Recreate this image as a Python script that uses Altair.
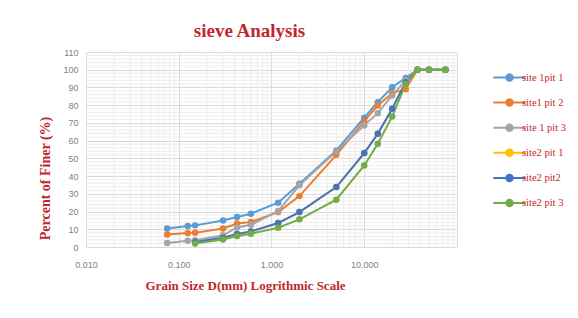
import altair as alt
import pandas as pd

sizes = [0.075, 0.125, 0.15, 0.3, 0.425, 0.6, 1.18, 2.0, 5.0, 10.0, 14.0, 20.0, 28.0, 37.5, 50.0, 75.0]
series_names = ["site 1pit 1", "site1 pit 2", "site 1 pit 3", "site2 pit 1", "site2 pit2", "site2 pit 3"]
colors = ["#5B9BD5", "#ED7D31", "#A5A5A5", "#FFC000", "#4472C4", "#70AD47"]

s1p1 = [10.4, 11.9, 12.2, 15.0, 16.9, 18.8, 25.0, 35.7, 54.5, 72.9, 81.7, 90.1, 95.4, 100, 100, 100]
s1p2 = [7.0, 7.9, 8.1, 10.4, 13.2, 14.1, 19.7, 28.7, 52.0, 71.0, 79.8, 86.8, 89.0, 100, 100, 100]
s1p3 = [2.3, 3.5, 3.8, 6.6, 11.0, 12.5, 20.3, 34.8, 54.0, 68.6, 75.5, 85.5, 94.0, 100, 100, 100]
s2p1 = [None, None, 2.8, 5.2, 7.3, 8.8, 13.5, 19.7, 33.8, 53.0, 63.9, 78.0, 93.0, 100, 100, 100]
s2p2 = [None, None, 2.8, 5.2, 7.3, 8.8, 13.5, 19.7, 33.8, 53.0, 63.9, 78.0, 93.0, 100, 100, 100]
s2p3 = [None, None, 2.0, 4.2, 6.2, 7.5, 10.9, 15.6, 26.7, 46.0, 58.2, 73.6, 92.0, 100, 100, 100]

major_x = [0.01, 0.1, 1, 10]
minor_x = [m * d for d in [0.01, 0.1, 1, 10] for m in range(2, 10)]
major_y = list(range(0, 111, 10))
minor_y = [v for v in range(0, 111, 2) if v % 10 != 0]

rows = []
for name, vals in zip(series_names, [s1p1, s1p2, s1p3, s2p1, s2p2, s2p3]):
    for s, v in zip(sizes, vals):
        if v is not None:
            rows.append({"size": s, "finer": v, "series": name})
df = pd.DataFrame(rows)

xscale = alt.Scale(type="log", domain=[0.01, 100], nice=False)
yscale = alt.Scale(domain=[0, 110], nice=False)

red = "#C0272D"

xaxis = alt.Axis(values=major_x, format=".3f", title="Grain  Size D(mm) Logrithmic  Scale",
                 grid=True, gridColor="#d9d9d9", domain=False, ticks=False,
                 labelPadding=13, labelFontSize=9, labelColor="#7f7f7f", labelFont="Liberation Sans",
                 titleFont="Liberation Serif", titleFontSize=13, titleColor=red, titleFontWeight="bold",
                 titlePadding=10, titleX=159, labelFlush=False)
yaxis = alt.Axis(values=major_y, title="Percent of Finer (%)",
                 grid=True, gridColor="#d9d9d9", domain=False, ticks=False,
                 labelPadding=8, labelFontSize=9, labelColor="#7f7f7f", labelFont="Liberation Sans",
                 titleFont="Liberation Serif", titleFontSize=14, titleColor=red, titleFontWeight="bold",
                 titlePadding=10, titleY=126)

minor_vx = alt.Chart(pd.DataFrame({"v": minor_x})).mark_rule(color="#ececec", strokeWidth=1).encode(
    x=alt.X("v:Q", scale=xscale, axis=xaxis)
)
minor_hy = alt.Chart(pd.DataFrame({"v": minor_y})).mark_rule(color="#ececec", strokeWidth=1).encode(
    y=alt.Y("v:Q", scale=yscale, axis=yaxis)
)

legend_path = "M-2,0L2,0M0.4,0A0.4,0.4,0,1,1,-0.4,0A0.4,0.4,0,1,1,0.4,0Z"

lines = alt.Chart(df).mark_line(
    strokeWidth=2,
    point=alt.OverlayMarkDef(filled=True, size=42, opacity=1),
).encode(
    x=alt.X("size:Q", scale=xscale, axis=xaxis),
    y=alt.Y("finer:Q", scale=yscale, axis=yaxis),
    color=alt.Color("series:N", sort=series_names,
                    scale=alt.Scale(domain=series_names, range=colors),
                    legend=alt.Legend(title=None, orient="none", legendX=414, legendY=16,
                                      symbolType=legend_path, symbolSize=264, symbolStrokeWidth=2,
                                      labelFont="Liberation Serif", labelFontSize=10.5, labelColor=red,
                                      labelOffset=3, rowPadding=8.1)),
    order=alt.Order("size:Q"),
)

chart = alt.layer(minor_vx, minor_hy, lines).properties(
    width=371, height=195,
    title=alt.TitleParams("sieve Analysis", font="Liberation Serif", fontSize=19, fontWeight="bold",
                          color=red, dx=-22, offset=7),
    autosize=alt.AutoSizeParams(type="none"),
    padding={"left": 78, "top": 44, "right": 113, "bottom": 50},
).configure_view(stroke=None).configure(background="white")

chart.save("out.html", embed_options={"renderer": "svg", "actions": False})
